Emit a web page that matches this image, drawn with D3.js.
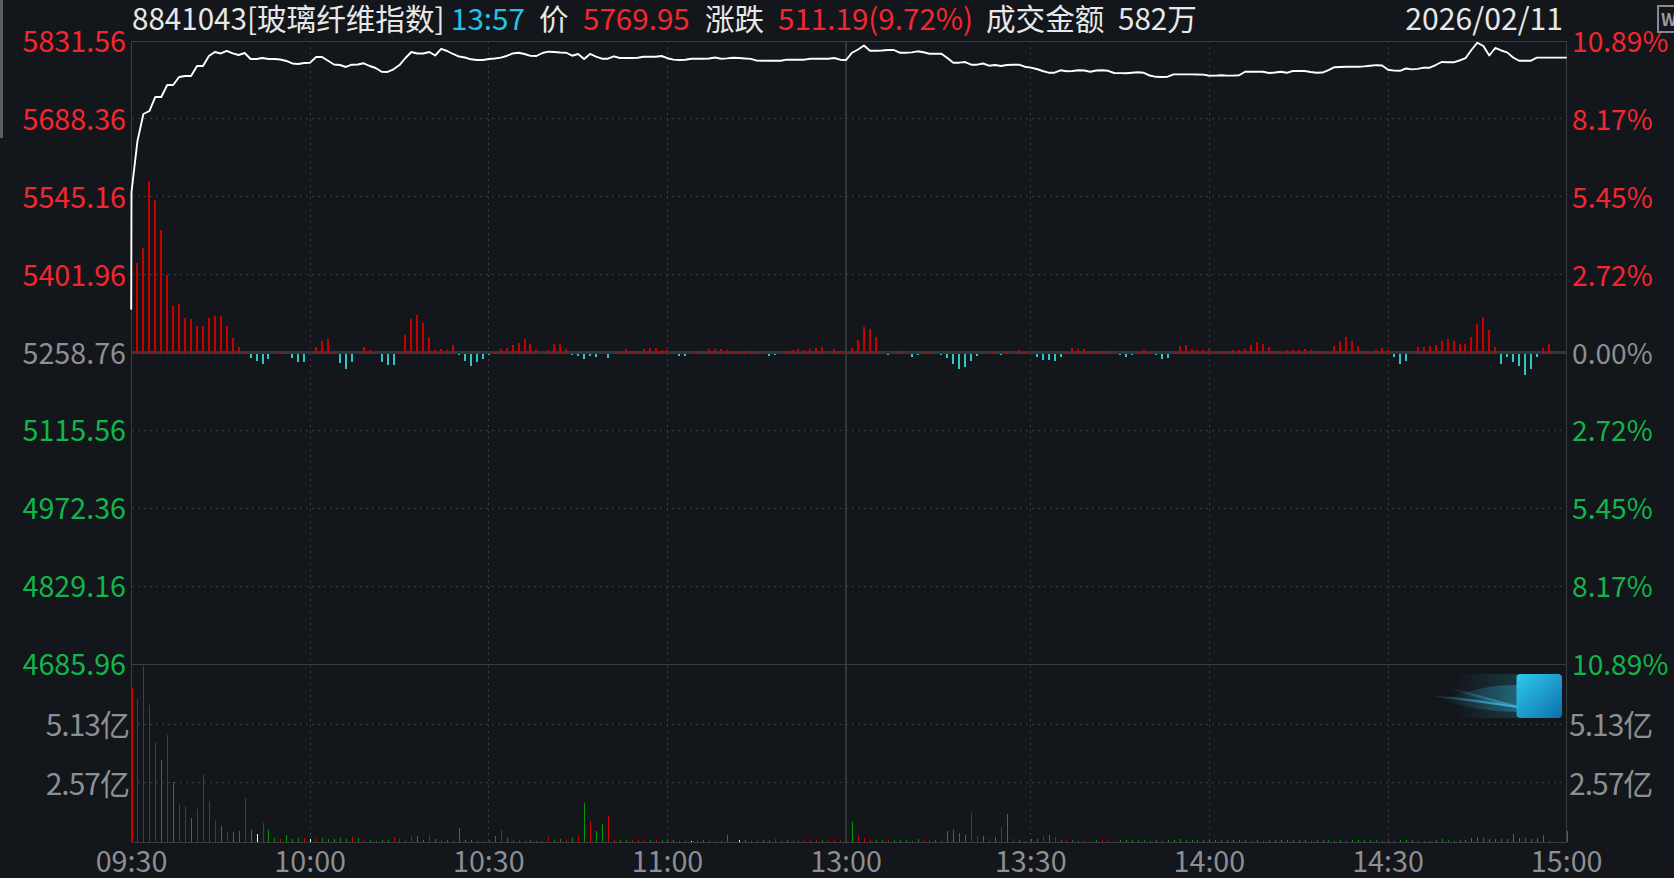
<!DOCTYPE html>
<html><head><meta charset="utf-8">
<script src="https://cdn.jsdelivr.net/npm/d3@7"></script>
<style>
html,body{margin:0;padding:0;background:#13161b;overflow:hidden}
text{font-family:"Noto Sans CJK SC","Noto Sans",sans-serif}
</style></head><body><div id="c"></div>
<script>
const openPrice = 5338.7;
const price = [5553.9,5647.7,5697.3,5702.8,5728.6,5728.6,5750.7,5750.7,5765.4,5767.2,
5767.2,5785.6,5785.6,5804,5811.3,5808.6,5813.2,5808.9,5805.8,5809.5,
5798.5,5798.5,5800.3,5798.5,5798.5,5797.6,5794.8,5790.2,5789.3,5791.1,
5791.7,5802.1,5802.1,5795.3,5788.4,5787.4,5783.8,5788,5788.4,5790.6,
5785.6,5781.9,5775.1,5774.6,5779.5,5787.4,5800.3,5811.3,5808.6,5808.6,
5811.3,5804.9,5816.9,5813.2,5807.7,5803,5801.2,5797.9,5796.6,5796.6,
5798.5,5799.4,5800.9,5804,5808.6,5810,5807.7,5804.3,5804,5809.5,
5811.9,5811.3,5810.4,5810,5804.5,5807.7,5798.5,5807.7,5803,5799,
5799,5803.4,5800.3,5800.3,5800.3,5800.7,5802.7,5802.7,5802.7,5804,
5799.9,5797.4,5796.6,5797,5799,5799,5799,5799.4,5801.2,5799,
5799.6,5800.7,5800.3,5799.4,5798.6,5795.5,5795.3,5795.3,5795.3,5795.3,
5797.4,5797.2,5797.2,5797.2,5799,5799,5799,5799,5800.3,5797.2,
5796.6,5810,5815.9,5823.3,5813.7,5813.7,5814.1,5815,5815,5810,
5810,5810.6,5812.6,5810.8,5808.2,5808.2,5808.2,5800.3,5791.7,5791.7,
5792.9,5788,5788,5790.2,5786.1,5787.4,5785.6,5787.4,5788,5788,
5784.3,5782.5,5780.1,5776.4,5773.3,5773.3,5777.7,5775.9,5776.4,5777.7,
5777.3,5775.1,5777.3,5777.7,5776.8,5772.7,5772.4,5772.2,5773.3,5774,
5773.1,5768.1,5765.7,5765.4,5765.9,5770.1,5770.1,5770.1,5770.1,5770,
5769.8,5767.6,5767.8,5768.5,5767.8,5767.8,5768.5,5775.1,5775.1,5775.1,
5775.1,5772.7,5773.6,5775,5773.1,5776.4,5776.4,5776.4,5774.6,5773.3,
5773.6,5778.2,5783.4,5783.8,5784.1,5784.1,5784.3,5784.9,5786,5787.1,
5786.5,5778.8,5777,5776.8,5781,5779.3,5780.3,5782.5,5782.5,5787.4,
5792.9,5792.6,5792.4,5795.7,5799.9,5815,5828.4,5822.4,5804.9,5818.7,
5814.1,5810.6,5801.2,5795.3,5795.3,5795.3,5800.9,5800.9,5800.9,5800.9,
5800.9,5800.9];
const strength = [0,91,106,173,154,124,79,48,50,36,
35,28,28,36,38,38,28,16,7,1.5,
-4.7,-7,-10,-5,-.5,3,1,-4,-8,-8,
0,6.7,12.7,14.7,3,-9,-15,-8,-.5,6.7,
3.5,1,-8,-11,-11,1.5,19,35,39,31,
17,3.5,4.5,3.5,9,-1,-7,-12,-8,-5,
-1,1.5,4.5,5.5,8.5,11,14.5,9.5,4,-.3,
4,10,10,5,-1.5,-2.5,-5.5,-2,-3.5,1,
-4.7,.3,2,5,3,3,5,6,6,4,
3.3,-.3,-2.5,-2.5,-.3,3,-.3,5,5,5,
4,2,2,2,3,2,.3,-2.5,-1.5,-.5,
3,4,5,4,5,6,7,-.3,5,3,
2,6,14,27,25,17,.3,-1.5,1,3,
-.3,-3.5,-1.5,2,2,-.3,-1,-4.7,-10,-15,
-13,-7,-2.5,-.3,.3,1.3,-1.3,1.3,.3,4,
1.7,-.3,-3.3,-6,-6,-7,-3.3,1.3,6,5,
5,2.7,2.7,2.7,2.7,1,-1,-3.3,-1.3,2,
4,3,-1.3,-5.3,-4.7,2,7.3,8.3,5,4,
4,4.7,1.7,1.7,1.7,4,4,5,8.3,11.3,
10,7,3,2,4,4,4,5,4,3,
1.7,1.7,7.3,13,17,13,8,2.7,1.7,3.3,
5.3,3.7,-3.3,-10,-7.3,0,6.7,6.7,7.7,8.7,
12.7,14.7,12.7,9.3,9.3,16.7,30,36.7,23.7,6.7,
-10,-3.3,-8.3,-12.3,-21.3,-15,-3.3,5.3,9.3,-.3,
-.3,-.3];
const volume = [6.71,6.23,7.67,5.97,4.36,3.57,4.66,2.61,1.66,1.57,
1.05,1.44,2.96,1.79,.96,.70,.44,.44,.48,1.92,
.52,.35,.83,.52,.17,.13,.30,.13,.17,.17,
.13,.13,.19,.13,.13,.19,.13,.22,.19,.09,
.09,.04,.09,.09,.22,.13,.09,.26,.26,.09,
.30,.13,.09,.09,.04,.61,.09,.09,.04,.04,
.09,.26,.52,.17,.09,.09,.04,.09,.04,.04,
.22,.09,.13,.09,.17,.26,1.70,.91,.48,.78,
1.13,.09,.09,.09,.09,.09,.09,.09,.09,.09,
.09,.09,.04,.09,.04,.09,.09,.09,.04,.04,
.30,.04,.09,.09,.04,.09,.09,.09,.13,.04,
.09,.09,.04,.09,.09,.09,.09,.09,.09,.09,
.04,.87,.30,.17,.09,.09,.09,.09,.09,.09,
.09,.04,.13,.09,.09,.09,.04,.48,.52,.39,
.30,1.26,.26,.26,.13,.22,.65,1.22,.13,.09,
.04,.13,.13,.26,.30,.22,.09,.09,.09,.04,
.04,.04,.09,.09,.09,.04,.09,.09,.09,.09,
.09,.04,.09,.04,.09,.09,.13,.09,.09,.09,
.09,.09,.09,.09,.09,.09,.09,.09,.04,.09,
.04,.09,.09,.09,.09,.09,.09,.09,.04,.09,
.09,.07,.04,.09,.04,.09,.09,.09,.09,.09,
.04,.04,.04,.09,.09,.09,.04,.04,.04,.09,
.13,.09,.04,.09,.09,.17,.22,.17,.13,.13,
.13,.13,.35,.17,.17,.13,.17,.30,.04,0,
0,.48];
const volumeDir = ("rrrrrgrgrr"+"grrrrgrggr"+"gwrggrgggr"+"wrgggggrgr"+"gggg"+"rrrrgg"+"rgrggggggr"+"rgrgrrgggr"+"rggrgrgrgg"+"rrggrrrgrg"+"ggg"+"rwrgrrgg"+"rwggrggrgg"+"rgrrrgrrrg"+"grrrggrgggg"+"grrggggggrr"+"grgrgrggg"+"grgrgrggg"+"rgrrr").split("");
const priceTicks = [5831.56,5688.36,5545.16,5401.96,5258.76,5115.56,4972.36,4829.16,4685.96];
const pctTicks = ["10.89%","8.17%","5.45%","2.72%","0.00%","2.72%","5.45%","8.17%","10.89%"];
const volTicks = [5.13,2.57];
const timeTicks = [["09:30",0],["10:00",30],["10:30",60],["11:00",90],["13:00",120],["13:30",151],["14:00",181],["14:30",211],["15:00",241]];
const headerItems = [
 ["8841043[玻璃纤维指数]",132,"#e8e8e8"],["13:57",451,"#22c3e6"],["价",539,"#e8e8e8"],
 ["5769.95",583,"#f5262f"],["涨跌",705,"#e8e8e8"],["511.19(9.72%)",778,"#f5262f"],
 ["成交金额",986,"#e8e8e8"],["582万",1118,"#e8e8e8"]];
const dateLabel = "2026/02/11";

const RED="#f5262f",GREEN="#12b54a",GRAY="#8c8f93",LINE="#3a3c40",BG="#13161b";
const W=1674,H=878,L=131.5,R=1566.7,T=41,Z=352.5,B=664,VB=842;
const svg=d3.select("#c").append("svg").attr("width",W).attr("height",H).style("display","block");
svg.append("rect").attr("width",W).attr("height",H).attr("fill",BG);
svg.append("rect").attr("x",0).attr("y",0).attr("width",3).attr("height",138).attr("fill","#5b5c66");

const x=d3.scaleLinear().domain([0,241]).range([L,R]);
const y=d3.scaleLinear().domain([4685.96,5831.56]).range([B,T]);
const yS=d3.scaleLinear().domain([-100,100]).range([Z+101,Z-99]);
const yV=d3.scaleLinear().domain([0,7.7]).range([VB,B+1]);

// grid
const g=svg.append("g").attr("shape-rendering","crispEdges");
priceTicks.forEach((p,i)=>{
  if(i===0||i===8||i===4) return;
  g.append("line").attr("x1",L).attr("x2",R).attr("y1",y(p)).attr("y2",y(p)).attr("stroke",LINE).attr("stroke-dasharray","2,4");
});
volTicks.forEach(v=>g.append("line").attr("x1",L).attr("x2",R).attr("y1",yV(v)).attr("y2",yV(v)).attr("stroke",LINE).attr("stroke-dasharray","2,4"));
timeTicks.forEach(([t,m])=>{
  if(m===0||m===241) return;
  g.append("line").attr("x1",x(m)).attr("x2",x(m)).attr("y1",T).attr("y2",VB)
   .attr("stroke",m===120?"#34363a":LINE).attr("stroke-width",m===120?2:1).attr("stroke-dasharray",m===120?null:"2,4");
});
// frame
[[L,T,L,VB],[R,T,R,VB],[L,T,R,T],[L,B,R,B],[L,VB,R,VB]].forEach(a=>
  g.append("line").attr("x1",a[0]).attr("y1",a[1]).attr("x2",a[2]).attr("y2",a[3]).attr("stroke",LINE));
g.append("line").attr("x1",L).attr("x2",R).attr("y1",Z).attr("y2",Z).attr("stroke","#34363a").attr("stroke-width",3);

// strength bars
const sg=svg.append("g").attr("shape-rendering","crispEdges");
sg.selectAll("rect").data(strength).join("rect")
 .attr("x",(d,i)=>Math.round(x(i))-1).attr("width",2)
 .attr("y",d=>d>=0?yS(d):yS(0)).attr("height",d=>Math.abs(yS(d)-yS(0)))
 .attr("fill",d=>d>=0?"#c80000":"#2fc6c8");

// volume bars
const vc={r:"#d40000",g:"#009a00",w:"#ffffff"};
const vg=svg.append("g").attr("shape-rendering","crispEdges");
vg.selectAll("rect").data(volume).join("rect")
 .attr("x",(d,i)=>Math.round(x(i))).attr("width",1)
 .attr("y",d=>yV(d)).attr("height",d=>yV(0)-yV(d))
 .attr("fill",(d,i)=>vc[volumeDir[i]||"g"]);

// price line
const pts=[{m:-0.15,p:openPrice},{m:-0.05,p:openPrice}].concat(price.map((p,i)=>({m:i,p})));
const line=d3.line().x(d=>x(d.m)).y(d=>y(d.p));
svg.append("path").attr("d",line(pts)).attr("fill","none").attr("stroke","#fff").attr("stroke-width",1.9).attr("stroke-linejoin","round");

// axis labels
const FS=28.7;
const lab=(s,xx,yy,a,c,fs)=>svg.append("text").text(s).attr("x",xx).attr("y",yy).attr("text-anchor",a).attr("fill",c)
  .attr("font-size",fs||FS).attr("dominant-baseline","central");
priceTicks.forEach((p,i)=>{
  const c=i<4?RED:i===4?GRAY:GREEN;
  lab(p.toFixed(2),126,y(p)-1.5,"end",c);
  lab(pctTicks[i],1572,y(p)-1.5,"start",c,28.2);
});
volTicks.forEach(v=>{
  lab(v.toFixed(2)+"亿",129,yV(v)-1,"end",GRAY,30).attr("letter-spacing",-1);
  lab(v.toFixed(2)+"亿",1569,yV(v)-1,"start",GRAY,30).attr("letter-spacing",-1);
});
timeTicks.forEach(([t,m])=>lab(t,x(m),859,"middle",GRAY));
headerItems.forEach(([s,xx,c])=>lab(s,xx,17,"start",c,29.6));
lab(dateLabel,1563,17,"end","#e8e8e8",30.2);

// watermark icon
const ic=svg.append("g");
ic.append("rect").attr("x",1658).attr("y",6).attr("width",20).attr("height",26).attr("fill","none").attr("stroke","#8a8a8a").attr("stroke-width",2);
ic.append("text").text("W").attr("x",1661).attr("y",26).attr("fill","#9a9a9a").attr("font-size",17).attr("font-weight",700);

// logo
const defs=svg.append("defs");
const g1=defs.append("linearGradient").attr("id","sq").attr("x1",0).attr("y1",0).attr("x2",1).attr("y2",1);
g1.append("stop").attr("offset",0).attr("stop-color","#2fcbec");
g1.append("stop").attr("offset",1).attr("stop-color","#0d6fae");
const g2=defs.append("linearGradient").attr("id","tail");
g2.append("stop").attr("offset",0).attr("stop-color","#2fa8c8").attr("stop-opacity",0);
g2.append("stop").attr("offset",1).attr("stop-color","#2fa8c8").attr("stop-opacity",.42);
const g3=defs.append("linearGradient").attr("id","streak");
g3.append("stop").attr("offset",0).attr("stop-color","#45c3ea").attr("stop-opacity",0);
g3.append("stop").attr("offset",1).attr("stop-color","#45c3ea").attr("stop-opacity",.95);
svg.append("rect").attr("x",1455).attr("y",674).attr("width",64).attr("height",44).attr("fill","url(#tail)").attr("opacity",.55);
svg.append("path").attr("d","M1460 694 Q1490 684 1519 685 L1519 712 Q1480 712 1440 700 Z").attr("fill","url(#tail)");
svg.append("path").attr("d","M1428 695 Q1475 698 1519 707 L1519 708 Q1475 702 1428 696 Z").attr("fill","url(#streak)");
svg.append("path").attr("d","M1443 686 Q1480 700 1519 708 L1519 706 Q1480 695 1443 686 Z").attr("fill","url(#streak)").attr("opacity",.6);
svg.append("rect").attr("x",1516.5).attr("y",674).attr("width",45.5).attr("height",44).attr("rx",4).attr("fill","url(#sq)");
</script></body></html>
